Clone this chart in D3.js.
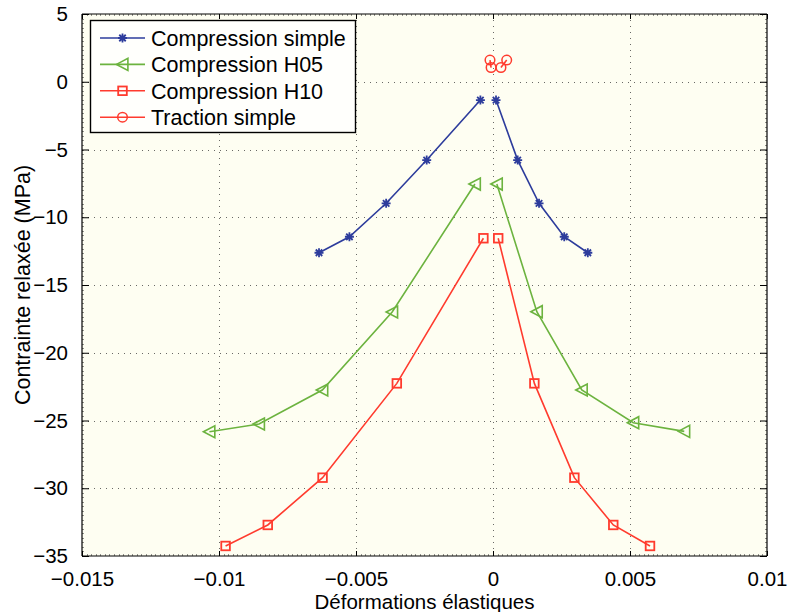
<!DOCTYPE html>
<html>
<head>
<meta charset="utf-8">
<script src="https://cdn.jsdelivr.net/npm/d3@7"></script>
<style>
  html, body { margin: 0; padding: 0; background: #ffffff; }
  svg { display: block; font-family: "Liberation Sans", Arial, Helvetica, sans-serif; }
</style>
</head>
<body>
<svg id="chart" width="787" height="612"></svg>
<script>
// ---- Data ----
const seriesNames = ["Compression simple", "Compression H05", "Compression H10", "Traction simple"];

// Compression simple (two branches: negative and positive strain)
const csLeftX  = [-0.00635, -0.00524, -0.0039, -0.00242, -0.00046];
const csLeftY  = [-12.62, -11.44, -8.97, -5.78, -1.35];
const csRightX = [0.00011, 0.0009, 0.00168, 0.0026, 0.00346];
const csRightY = [-1.35, -5.78, -8.97, -11.44, -12.62];

// Compression H05
const h05LeftX  = [-0.01035, -0.00854, -0.00623, -0.00368, -0.00066];
const h05LeftY  = [-25.83, -25.26, -22.75, -16.99, -7.55];
const h05RightX = [0.00014, 0.0016, 0.00324, 0.00512, 0.00698];
const h05RightY = [-7.55, -16.97, -22.75, -25.16, -25.8];

// Compression H10
const h10LeftX  = [-0.00976, -0.00822, -0.00622, -0.00351, -0.00035];
const h10LeftY  = [-34.26, -32.71, -29.22, -22.26, -11.55];
const h10RightX = [0.00019, 0.00151, 0.00297, 0.00439, 0.00573];
const h10RightY = [-11.55, -22.26, -29.22, -32.71, -34.26];

// Traction simple
const trLeftX  = [-0.00011, -0.00007];
const trLeftY  = [1.6, 1.05];
const trRightX = [0.00029, 0.0005];
const trRightY = [1.05, 1.6];

const xTicks = [-0.015, -0.01, -0.005, 0, 0.005, 0.01];
const xTickLabels = ["\u22120.015", "\u22120.01", "\u22120.005", "0", "0.005", "0.01"];
const yTicks = [5, 0, -5, -10, -15, -20, -25, -30, -35];
const yTickLabels = ["5", "0", "\u22125", "\u221210", "\u221215", "\u221220", "\u221225", "\u221230", "\u221235"];

const xTitle = "Déformations élastiques";
const yTitle = "Contrainte relaxée (MPa)";

// ---- Layout ----
const svg = d3.select("#chart");
const M = { left: 82, top: 14, right: 20, bottom: 56 };
const W = 787, H = 612;
const pw = W - M.left - M.right;   // 685
const ph = H - M.top - M.bottom;   // 542

const x = d3.scaleLinear().domain([-0.015, 0.01]).range([M.left, M.left + pw]);
const y = d3.scaleLinear().domain([-35, 5]).range([M.top + ph, M.top]);

const colors = { cs: "#2d3c9c", h05: "#6cb33f", h10: "#ff3b2e", tr: "#ff3b2e" };
const FS = 21.5;      // legend / y title
const TFS = 20.5;     // tick labels / x title

// background of plot
svg.append("rect").attr("x", M.left).attr("y", M.top).attr("width", pw).attr("height", ph)
  .attr("fill", "#fefef2");

// grid
const grid = svg.append("g").attr("stroke", "#444").attr("stroke-width", 1)
  .attr("stroke-dasharray", "1,5").attr("opacity", 0.8);
xTicks.slice(1, -1).forEach(t => {
  grid.append("line").attr("x1", Math.round(x(t)) + 0.5).attr("x2", Math.round(x(t)) + 0.5)
    .attr("y1", M.top).attr("y2", M.top + ph);
});
yTicks.slice(1, -1).forEach(t => {
  grid.append("line").attr("y1", Math.round(y(t)) + 0.5).attr("y2", Math.round(y(t)) + 0.5)
    .attr("x1", M.left).attr("x2", M.left + pw);
});

// axes using d3 axes (ticks inward)
const xAxisB = d3.axisBottom(x).tickValues(xTicks).tickSize(-5).tickFormat((d, i) => xTickLabels[i]).tickPadding(15);
const xAxisT = d3.axisTop(x).tickValues(xTicks).tickSize(-5).tickFormat("");
const yAxisL = d3.axisLeft(y).tickValues(yTicks).tickSize(-7).tickFormat((d, i) => yTickLabels[i]).tickPadding(14);
const yAxisR = d3.axisRight(y).tickValues(yTicks).tickSize(-7).tickFormat("");

function styleAxis(g) {
  g.selectAll("path").attr("stroke", "#000").attr("stroke-width", 1.2);
  g.selectAll("line").attr("stroke", "#000").attr("stroke-width", 1);
  g.selectAll("text").attr("fill", "#000").style("font-size", TFS + "px")
    .style("font-family", "'Liberation Sans', Arial, sans-serif");
}
const gxb = svg.append("g").attr("transform", `translate(0,${M.top + ph})`).call(xAxisB).call(styleAxis);
gxb.selectAll("path").attr("d", `M${M.left},0H${M.left + pw}`);
const gxt = svg.append("g").attr("transform", `translate(0,${M.top})`).call(xAxisT).call(styleAxis);
gxt.selectAll("path").attr("d", `M${M.left},0H${M.left + pw}`);
const gyl = svg.append("g").attr("transform", `translate(${M.left},0)`).call(yAxisL).call(styleAxis);
gyl.selectAll("path").attr("d", `M0,${M.top}V${M.top + ph}`);
gyl.selectAll("text").attr("dy", "0.32em");
const gyr = svg.append("g").attr("transform", `translate(${M.left + pw},0)`).call(yAxisR).call(styleAxis);
gyr.selectAll("path").attr("d", `M0,${M.top}V${M.top + ph}`);

// minor ticks
const xMinor = d3.range(-0.015, 0.01 + 1e-9, 0.005 / 30);
const yMinor = d3.range(-35, 5 + 1e-9, 5 / 15);
const minor = svg.append("g").attr("stroke", "#000").attr("stroke-width", 0.6).attr("opacity", 0.7);
xMinor.forEach(t => {
  const px = Math.round(x(t)) + 0.5;
  minor.append("line").attr("x1", px).attr("x2", px).attr("y1", M.top + ph).attr("y2", M.top + ph - 2);
  minor.append("line").attr("x1", px).attr("x2", px).attr("y1", M.top).attr("y2", M.top + 2);
});
yMinor.forEach(t => {
  const py = Math.round(y(t)) + 0.5;
  minor.append("line").attr("y1", py).attr("y2", py).attr("x1", M.left).attr("x2", M.left + 2);
  minor.append("line").attr("y1", py).attr("y2", py).attr("x1", M.left + pw).attr("x2", M.left + pw - 2);
});

// axis titles
svg.append("text").attr("x", x(-0.0025)).attr("y", 609).attr("text-anchor", "middle")
  .style("font-size", TFS + "px").text(xTitle);
svg.append("text").attr("transform", `translate(30,${y(-15)}) rotate(-90)`).attr("text-anchor", "middle")
  .style("font-size", FS + "px").text(yTitle);

// ---- Markers ----
function drawMarker(g, type, cx, cy, color) {
  if (type === "star") {
    const r = 4.5, d = r * 0.72;
    const p = `M${cx - r},${cy}H${cx + r}M${cx},${cy - r}V${cy + r}M${cx - d},${cy - d}L${cx + d},${cy + d}M${cx - d},${cy + d}L${cx + d},${cy - d}`;
    g.append("path").attr("d", p).attr("stroke", color).attr("stroke-width", 1.8).attr("fill", "none");
  } else if (type === "tri") {
    const r = 6;
    const p = `M${cx - r},${cy}L${cx + r * 0.9},${cy - r}L${cx + r * 0.9},${cy + r}Z`;
    g.append("path").attr("d", p).attr("stroke", color).attr("stroke-width", 1.6).attr("fill", "none");
  } else if (type === "sq") {
    const r = 4.3;
    g.append("rect").attr("x", cx - r).attr("y", cy - r).attr("width", 2 * r).attr("height", 2 * r)
      .attr("stroke", color).attr("stroke-width", 1.8).attr("fill", "none");
  } else if (type === "circ") {
    g.append("circle").attr("cx", cx).attr("cy", cy).attr("r", 4.8)
      .attr("stroke", color).attr("stroke-width", 1.5).attr("fill", "none");
  }
}

const line = d3.line().x(d => x(d[0])).y(d => y(d[1]));
const plot = svg.append("g");

function drawSeries(xs, ys, color, marker) {
  const pts = xs.map((v, i) => [v, ys[i]]);
  plot.append("path").datum(pts).attr("d", line).attr("fill", "none")
    .attr("stroke", color).attr("stroke-width", 1.6);
  pts.forEach(p => drawMarker(plot, marker, x(p[0]), y(p[1]), color));
}

drawSeries(trLeftX, trLeftY, colors.tr, "circ");
drawSeries(trRightX, trRightY, colors.tr, "circ");
drawSeries(h10LeftX, h10LeftY, colors.h10, "sq");
drawSeries(h10RightX, h10RightY, colors.h10, "sq");
drawSeries(h05LeftX, h05LeftY, colors.h05, "tri");
drawSeries(h05RightX, h05RightY, colors.h05, "tri");
drawSeries(csLeftX, csLeftY, colors.cs, "star");
drawSeries(csRightX, csRightY, colors.cs, "star");

// ---- Legend ----
const lg = svg.append("g");
lg.append("rect").attr("x", 90.5).attr("y", 20.5).attr("width", 265).attr("height", 112)
  .attr("fill", "#fffffc").attr("stroke", "#000").attr("stroke-width", 1.4);
const legendMarkers = ["star", "tri", "sq", "circ"];
const legendColors = [colors.cs, colors.h05, colors.h10, colors.tr];
seriesNames.forEach((name, i) => {
  const cy = 38 + i * 26.4;
  lg.append("line").attr("x1", 100).attr("x2", 145).attr("y1", cy).attr("y2", cy)
    .attr("stroke", legendColors[i]).attr("stroke-width", 1.6);
  drawMarker(lg, legendMarkers[i], 122.5, cy, legendColors[i]);
  lg.append("text").attr("x", 151).attr("y", cy).attr("dy", "0.36em")
    .style("font-size", FS + "px").text(name);
});
</script>
</body>
</html>
